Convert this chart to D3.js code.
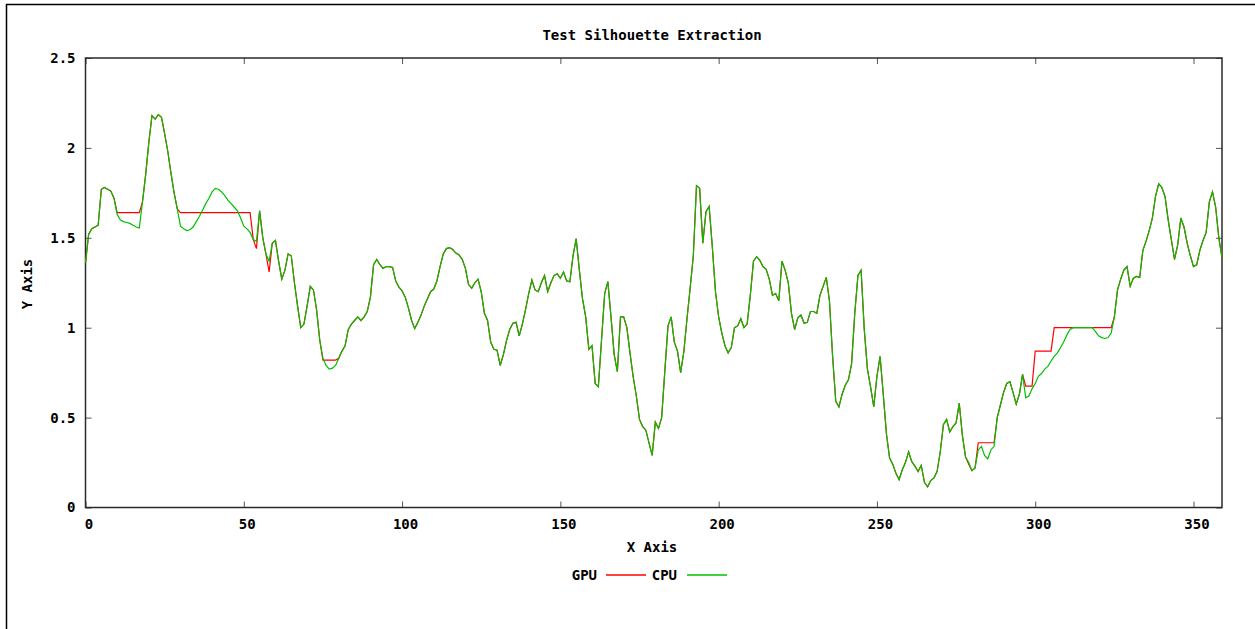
<!DOCTYPE html>
<html>
<head>
<meta charset="utf-8">
<script src="https://cdn.jsdelivr.net/npm/d3@7"></script>
<style>
  body { margin: 0; background: #fff; }
  text { font-family: "DejaVu Sans Mono", "Liberation Mono", monospace; font-weight: bold; font-size: 14px; fill: #000; }
</style>
</head>
<body>
<svg id="chart" width="1255" height="629"></svg>
<script>
// Silhouette value per angle step (0..359)
const angles = d3.range(0, 360);

const cpu = [
  1.36, 1.52, 1.55, 1.56, 1.57, 1.77, 1.78, 1.77, 1.76, 1.72,
  1.63, 1.60, 1.59, 1.585, 1.58, 1.57, 1.56, 1.555, 1.70, 1.85,
  2.03, 2.18, 2.16, 2.185, 2.17, 2.08, 1.98, 1.86, 1.75, 1.66,
  1.565, 1.55, 1.54, 1.545, 1.56, 1.59, 1.62, 1.655, 1.69, 1.72,
  1.755, 1.775, 1.77, 1.755, 1.735, 1.71, 1.69, 1.67, 1.65, 1.61,
  1.565, 1.55, 1.53, 1.49, 1.48, 1.65, 1.50, 1.41, 1.37, 1.47,
  1.485, 1.37, 1.27, 1.32, 1.41, 1.40, 1.25, 1.12, 1.00, 1.02,
  1.12, 1.23, 1.21, 1.10, 0.93, 0.83, 0.79, 0.77, 0.775, 0.79,
  0.83, 0.87, 0.90, 0.99, 1.02, 1.04, 1.06, 1.04, 1.06, 1.09,
  1.17, 1.35, 1.38, 1.35, 1.33, 1.34, 1.34, 1.335, 1.26, 1.225,
  1.205, 1.17, 1.11, 1.04, 0.995, 1.03, 1.07, 1.12, 1.16, 1.20,
  1.215, 1.26, 1.34, 1.41, 1.44, 1.445, 1.435, 1.415, 1.405, 1.38,
  1.33, 1.24, 1.22, 1.25, 1.27, 1.20, 1.08, 1.04, 0.92, 0.88,
  0.875, 0.79, 0.85, 0.93, 0.99, 1.025, 1.03, 0.955, 1.02, 1.10,
  1.19, 1.265, 1.21, 1.20, 1.25, 1.29, 1.20, 1.25, 1.29, 1.30,
  1.275, 1.31, 1.26, 1.255, 1.40, 1.495, 1.32, 1.16, 1.06, 0.88,
  0.90, 0.69, 0.672, 0.93, 1.19, 1.256, 1.06, 0.85, 0.755, 1.06,
  1.06, 1.00, 0.86, 0.727, 0.62, 0.49, 0.45, 0.43, 0.36, 0.29,
  0.475, 0.44, 0.50, 0.76, 1.01, 1.06, 0.92, 0.87, 0.75, 0.866,
  1.05, 1.22, 1.40, 1.79, 1.775, 1.47, 1.645, 1.675, 1.45, 1.20,
  1.06, 0.97, 0.90, 0.86, 0.89, 1.00, 1.01, 1.05, 1.00, 1.02,
  1.18, 1.37, 1.395, 1.375, 1.34, 1.325, 1.27, 1.18, 1.19, 1.15,
  1.37, 1.32, 1.25, 1.08, 0.99, 1.055, 1.07, 1.025, 1.03, 1.09,
  1.09, 1.08, 1.18, 1.23, 1.28, 1.15, 0.84, 0.59, 0.56, 0.63,
  0.68, 0.71, 0.80, 1.08, 1.29, 1.32, 0.99, 0.77, 0.67, 0.56,
  0.73, 0.84, 0.63, 0.41, 0.275, 0.24, 0.19, 0.155, 0.21, 0.25,
  0.31, 0.255, 0.23, 0.20, 0.235, 0.14, 0.115, 0.15, 0.165, 0.20,
  0.31, 0.46, 0.49, 0.42, 0.45, 0.47, 0.58, 0.40, 0.28, 0.25,
  0.205, 0.22, 0.32, 0.34, 0.29, 0.27, 0.32, 0.34, 0.50, 0.57,
  0.64, 0.69, 0.70, 0.64, 0.575, 0.63, 0.74, 0.61, 0.62, 0.66,
  0.69, 0.73, 0.745, 0.77, 0.785, 0.815, 0.84, 0.86, 0.89, 0.92,
  0.96, 0.99, 1.00, 1.00, 1.00, 1.00, 1.00, 1.00, 1.00, 0.98,
  0.955, 0.945, 0.94, 0.945, 0.97, 1.06, 1.21, 1.27, 1.32, 1.34,
  1.23, 1.275, 1.285, 1.28, 1.43, 1.48, 1.54, 1.61, 1.73, 1.80,
  1.78, 1.73, 1.60, 1.49, 1.38, 1.46, 1.61, 1.56, 1.47, 1.40,
  1.34, 1.35, 1.43, 1.485, 1.53, 1.70, 1.755, 1.67, 1.50, 1.39
];

const gpu = [
  1.36, 1.52, 1.55, 1.56, 1.57, 1.77, 1.78, 1.77, 1.76, 1.72,
  1.64, 1.64, 1.64, 1.64, 1.64, 1.64, 1.64, 1.64, 1.70, 1.85,
  2.03, 2.18, 2.16, 2.185, 2.17, 2.08, 1.98, 1.86, 1.75, 1.66,
  1.64, 1.64, 1.64, 1.64, 1.64, 1.64, 1.64, 1.64, 1.64, 1.64,
  1.64, 1.64, 1.64, 1.64, 1.64, 1.64, 1.64, 1.64, 1.64, 1.64,
  1.64, 1.64, 1.64, 1.49, 1.44, 1.65, 1.50, 1.41, 1.31, 1.47,
  1.485, 1.37, 1.27, 1.32, 1.41, 1.40, 1.25, 1.12, 1.00, 1.02,
  1.12, 1.23, 1.21, 1.10, 0.93, 0.82, 0.82, 0.82, 0.82, 0.82,
  0.83, 0.87, 0.90, 0.99, 1.02, 1.04, 1.06, 1.04, 1.06, 1.09,
  1.17, 1.35, 1.38, 1.35, 1.33, 1.34, 1.34, 1.335, 1.26, 1.225,
  1.205, 1.17, 1.11, 1.04, 0.995, 1.03, 1.07, 1.12, 1.16, 1.20,
  1.215, 1.26, 1.34, 1.41, 1.44, 1.445, 1.435, 1.415, 1.405, 1.38,
  1.33, 1.24, 1.22, 1.25, 1.27, 1.20, 1.08, 1.04, 0.92, 0.88,
  0.875, 0.79, 0.85, 0.93, 0.99, 1.025, 1.03, 0.955, 1.02, 1.10,
  1.19, 1.265, 1.21, 1.20, 1.25, 1.29, 1.20, 1.25, 1.29, 1.30,
  1.275, 1.31, 1.26, 1.255, 1.40, 1.495, 1.32, 1.16, 1.06, 0.88,
  0.90, 0.69, 0.672, 0.93, 1.19, 1.256, 1.06, 0.85, 0.755, 1.06,
  1.06, 1.00, 0.86, 0.727, 0.62, 0.49, 0.45, 0.43, 0.36, 0.29,
  0.475, 0.44, 0.50, 0.76, 1.01, 1.06, 0.92, 0.87, 0.75, 0.866,
  1.05, 1.22, 1.40, 1.79, 1.775, 1.47, 1.645, 1.675, 1.45, 1.20,
  1.06, 0.97, 0.90, 0.86, 0.89, 1.00, 1.01, 1.05, 1.00, 1.02,
  1.18, 1.37, 1.395, 1.375, 1.34, 1.325, 1.27, 1.18, 1.19, 1.15,
  1.37, 1.32, 1.25, 1.08, 0.99, 1.055, 1.07, 1.025, 1.03, 1.09,
  1.09, 1.08, 1.18, 1.23, 1.28, 1.15, 0.84, 0.59, 0.56, 0.63,
  0.68, 0.71, 0.80, 1.08, 1.29, 1.32, 0.99, 0.77, 0.67, 0.56,
  0.73, 0.84, 0.63, 0.41, 0.275, 0.24, 0.19, 0.155, 0.21, 0.25,
  0.31, 0.255, 0.23, 0.20, 0.235, 0.14, 0.115, 0.15, 0.165, 0.20,
  0.31, 0.46, 0.49, 0.42, 0.45, 0.47, 0.58, 0.40, 0.28, 0.24,
  0.205, 0.22, 0.36, 0.36, 0.36, 0.36, 0.36, 0.36, 0.50, 0.57,
  0.64, 0.69, 0.70, 0.64, 0.575, 0.63, 0.74, 0.675, 0.675, 0.675,
  0.87, 0.87, 0.87, 0.87, 0.87, 0.87, 1.00, 1.00, 1.00, 1.00,
  1.00, 1.00, 1.00, 1.00, 1.00, 1.00, 1.00, 1.00, 1.00, 1.00,
  1.00, 1.00, 1.00, 1.00, 1.00, 1.06, 1.21, 1.27, 1.32, 1.34,
  1.23, 1.275, 1.285, 1.28, 1.43, 1.48, 1.54, 1.61, 1.73, 1.80,
  1.78, 1.73, 1.60, 1.49, 1.38, 1.46, 1.61, 1.56, 1.47, 1.40,
  1.34, 1.35, 1.43, 1.485, 1.53, 1.70, 1.755, 1.67, 1.50, 1.39
];

const xTicks = [0, 50, 100, 150, 200, 250, 300, 350];
const yTicks = [0, 0.5, 1, 1.5, 2, 2.5];
const seriesNames = ["GPU", "CPU"];
const titleText = "Test Silhouette Extraction";
const xLabel = "X Axis";
const yLabel = "Y Axis";

// Drawing styles
const lineColors = { GPU: "#ff0000", CPU: "#00c000" };
const frameColor = "#2a2a2a";

const svg = d3.select("#chart");
const plotLeft = 85.5, plotRight = 1222, plotTop = 58, plotBottom = 507.5;

const x = d3.scaleLinear().domain([0, 359]).range([plotLeft, plotRight]);
const y = d3.scaleLinear().domain([0, 2.5]).range([plotBottom, plotTop]);

// Outer image border (left and top edges)
svg.append("path")
  .attr("d", "M6.5,629 L6.5,4.5 L1255,4.5")
  .attr("fill", "none").attr("stroke", "#000").attr("stroke-width", 1.5);

// Axes with inward ticks on all four sides
function styleAxis(g) {
  g.select(".domain").remove();
  g.selectAll(".tick line").attr("stroke", "#555").attr("stroke-width", 1);
  g.selectAll(".tick text").attr("fill", "#000").attr("font-family", null).attr("font-size", null);
}

svg.append("g")
  .attr("transform", `translate(0,${plotBottom})`)
  .call(d3.axisBottom(x).tickValues(xTicks).tickFormat(d3.format("d")).tickSize(-6).tickPadding(12))
  .call(styleAxis)
  .call(g => g.selectAll(".tick text").attr("dx", 3));

svg.append("g")
  .attr("transform", `translate(0,${plotTop})`)
  .call(d3.axisTop(x).tickValues(xTicks).tickFormat("").tickSize(-6))
  .call(styleAxis);

svg.append("g")
  .attr("transform", `translate(${plotLeft},0)`)
  .call(d3.axisLeft(y).tickValues(yTicks).tickFormat(d3.format("")).tickSize(-6).tickPadding(10))
  .call(styleAxis);

svg.append("g")
  .attr("transform", `translate(${plotRight},0)`)
  .call(d3.axisRight(y).tickValues(yTicks).tickFormat("").tickSize(-6))
  .call(styleAxis);

// Plot frame
svg.append("rect")
  .attr("x", plotLeft).attr("y", plotTop)
  .attr("width", plotRight - plotLeft).attr("height", plotBottom - plotTop)
  .attr("fill", "none").attr("stroke", frameColor).attr("stroke-width", 1.5);

// Series lines: GPU first, CPU over it
const line = d3.line().x((d, i) => x(angles[i])).y(d => y(d));
const seriesData = { GPU: gpu, CPU: cpu };

seriesNames.forEach(name => {
  svg.append("path")
    .datum(seriesData[name])
    .attr("d", line)
    .attr("fill", "none")
    .attr("stroke", lineColors[name])
    .attr("stroke-width", 1.2)
    .attr("stroke-linejoin", "miter");
});

// Title and axis labels
svg.append("text").attr("x", 652).attr("y", 40).attr("text-anchor", "middle").text(titleText);
svg.append("text").attr("x", 652).attr("y", 552).attr("text-anchor", "middle").text(xLabel);
svg.append("text")
  .attr("transform", "translate(32,284) rotate(-90)")
  .attr("text-anchor", "middle").text(yLabel);

// Legend
const legendItems = [
  { name: "GPU", textEnd: 597, x0: 606, x1: 646 },
  { name: "CPU", textEnd: 677, x0: 687, x1: 727 }
];
const legendY = 575;
legendItems.forEach(item => {
  svg.append("text").attr("x", item.textEnd).attr("y", legendY + 5)
    .attr("text-anchor", "end").text(item.name);
  svg.append("line")
    .attr("x1", item.x0).attr("x2", item.x1)
    .attr("y1", legendY).attr("y2", legendY)
    .attr("stroke", lineColors[item.name]).attr("stroke-width", 1.5);
});
</script>
</body>
</html>
